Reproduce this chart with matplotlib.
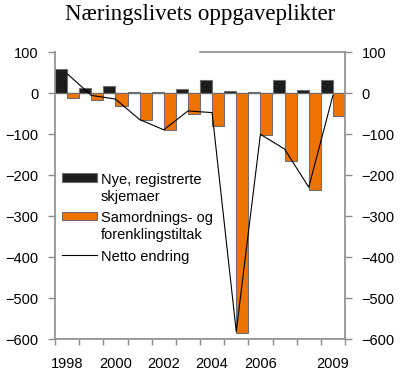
"""Næringslivets oppgaveplikter: nye skjemaer, forenklinger og netto endring."""

import matplotlib

matplotlib.use("Agg")
import matplotlib.pyplot as plt
from matplotlib.lines import Line2D
from matplotlib.patches import Rectangle
import numpy as np

years = [1998, 1999, 2000, 2001, 2002, 2003, 2004, 2005, 2006, 2007, 2008, 2009]
shown_years = [1998, 2000, 2002, 2004, 2006, 2009]
nye_skjemaer = [60, 12, 17, 2, 2, 10, 32, 5, 3, 32, 9, 32]
forenkling = [-12, -17, -32, -65, -90, -51, -79, -585, -101, -166, -237, -55]
netto = [48, -5, -14, -64, -89, -43, -47, -581, -100, -136, -229, -5]
yticks = [100, 0, -100, -200, -300, -400, -500, -600]

BLACK = "#1c1c1c"
ORANGE = "#ef7300"
EDGE = "#6e6e6e"
SPINE = "#8c8c8c"

plt.rcParams["font.family"] = ["Liberation Sans", "DejaVu Sans"]
plt.rcParams["font.size"] = 10.5

W, H = 400, 391
fig = plt.figure(figsize=(W / 100, H / 100), dpi=100)
ax = fig.add_axes([0.1375, 0.1322, 0.725, 0.734])

x = np.arange(len(years))
ax.axhline(0, color=SPINE, linewidth=1.0, zorder=1)
ax.bar(x - 0.25, nye_skjemaer, width=0.5, color=BLACK, edgecolor=EDGE,
       linewidth=0.8, zorder=2)
ax.bar(x + 0.25, forenkling, width=0.5, color=ORANGE, edgecolor=EDGE,
       linewidth=0.8, zorder=2)
ax.plot(x, netto, color="black", linewidth=0.8, zorder=3)

ax.set_xlim(-0.5, len(years) - 0.5)
ax.set_ylim(-600, 100)
ax.set_yticks(yticks)
ax.tick_params(axis="y", left=True, right=True, labelleft=True, labelright=True,
               direction="out", length=5, width=1, color=SPINE, pad=7)

ax.set_xticks(np.arange(len(years) + 1) - 0.5)
ax.set_xticklabels([])
ax.set_xticks([years.index(y) for y in shown_years], minor=True)
ax.set_xticklabels([str(y) for y in shown_years], minor=True)
ax.tick_params(axis="x", which="major", direction="out", length=4, width=1, color=SPINE)
ax.tick_params(axis="x", which="minor", length=0, pad=13)

for side in ["left", "right", "bottom"]:
    ax.spines[side].set_color(SPINE)
    ax.spines[side].set_linewidth(1.2)
ax.spines["top"].set_visible(False)
ax.axhline(100, xmin=0.5, xmax=1.0, color=SPINE, linewidth=1.2, clip_on=False)


# legend drawn by hand so the keys line up with the first text line
def fx(px):
    return px / W


def fy(py):
    return 1 - py / H


fig.add_artist(Rectangle((fx(62), fy(182)), fx(35), 9 / H, facecolor=BLACK,
                         edgecolor=EDGE, linewidth=0.8, transform=fig.transFigure))
fig.add_artist(Rectangle((fx(62), fy(220)), fx(35), 8 / H, facecolor=ORANGE,
                         edgecolor=EDGE, linewidth=0.8, transform=fig.transFigure))
fig.add_artist(Line2D([fx(62), fx(97)], [fy(255), fy(255)], color="black",
                      linewidth=0.8, transform=fig.transFigure))
legend_lines = [
    ("Nye, registrerte", 178), ("skjemaer", 195),
    ("Samordnings- og", 216.5), ("forenklingstiltak", 233.5),
    ("Netto endring", 255),
]
for text, py in legend_lines:
    fig.text(fx(101), fy(py), text, ha="left", va="center_baseline")

fig.text(0.5, 0.962, "Næringslivets oppgaveplikter", ha="center", va="center",
         fontsize=16.5, family=["Liberation Serif", "DejaVu Serif"])

fig.savefig("out.png", dpi=100)
